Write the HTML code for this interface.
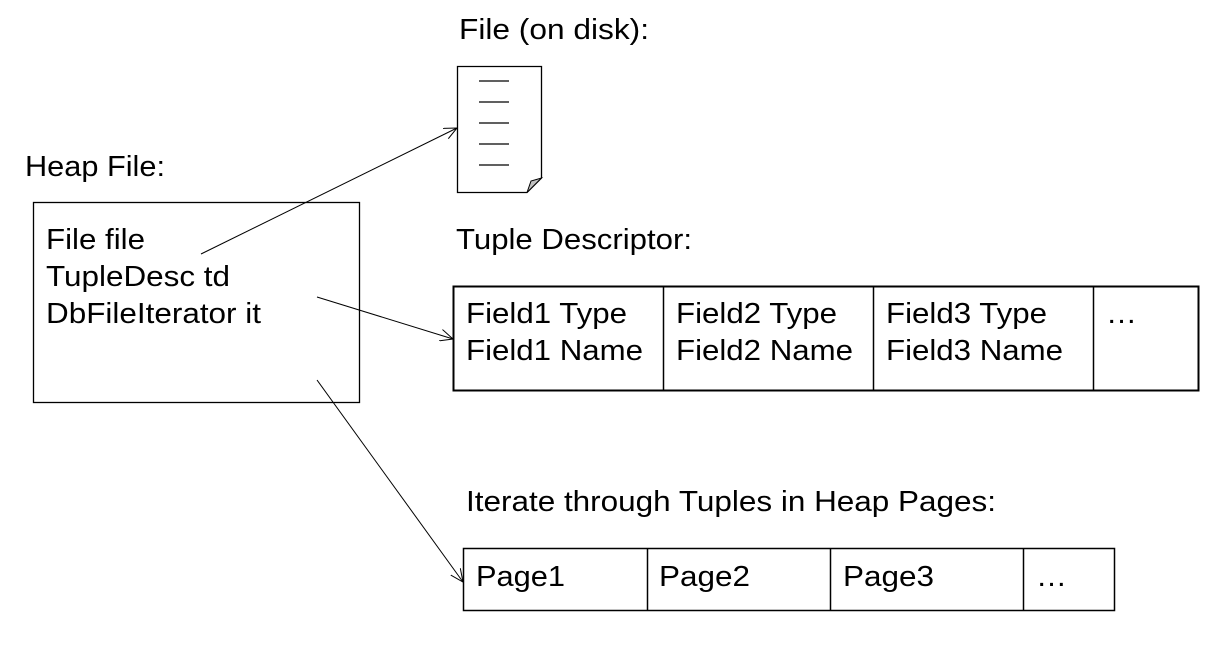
<!DOCTYPE html>
<html><head><style>html,body{margin:0;padding:0;background:#fff;}svg{display:block}</style></head>
<body>
<svg width="1210" height="655" xmlns="http://www.w3.org/2000/svg" font-family="Liberation Sans, Arial, sans-serif" font-size="29" fill="#000">
<defs><marker id="a" markerWidth="14" markerHeight="12" refX="13" refY="6" orient="auto" markerUnits="userSpaceOnUse"><path d="M0,0 L13,6 L0,12" fill="none" stroke="#000" stroke-width="1"/></marker></defs>
<g lengthAdjust="spacingAndGlyphs">
<text x="459" y="39" textLength="190" lengthAdjust="spacingAndGlyphs">File (on disk):</text>
<text x="25" y="176" textLength="140" lengthAdjust="spacingAndGlyphs">Heap File:</text>
<text x="456" y="249" textLength="236" lengthAdjust="spacingAndGlyphs">Tuple Descriptor:</text>
<text x="466" y="511" textLength="530" lengthAdjust="spacingAndGlyphs">Iterate through Tuples in Heap Pages:</text>
<text x="46" y="249" textLength="99" lengthAdjust="spacingAndGlyphs">File file</text>
<text x="46" y="286" textLength="184" lengthAdjust="spacingAndGlyphs">TupleDesc td</text>
<text x="46" y="323" textLength="215" lengthAdjust="spacingAndGlyphs">DbFileIterator it</text>
<text x="466" y="323" textLength="161" lengthAdjust="spacingAndGlyphs">Field1 Type</text><text x="466" y="360" textLength="177" lengthAdjust="spacingAndGlyphs">Field1 Name</text>
<text x="676" y="323" textLength="161" lengthAdjust="spacingAndGlyphs">Field2 Type</text><text x="676" y="360" textLength="177" lengthAdjust="spacingAndGlyphs">Field2 Name</text>
<text x="886" y="323" textLength="161" lengthAdjust="spacingAndGlyphs">Field3 Type</text><text x="886" y="360" textLength="177" lengthAdjust="spacingAndGlyphs">Field3 Name</text>
<text x="1106" y="323" textLength="31" lengthAdjust="spacingAndGlyphs">…</text>
<text x="476" y="586" textLength="89" lengthAdjust="spacingAndGlyphs">Page1</text><text x="659" y="586" textLength="91" lengthAdjust="spacingAndGlyphs">Page2</text><text x="843" y="586" textLength="91" lengthAdjust="spacingAndGlyphs">Page3</text><text x="1036" y="586" textLength="31" lengthAdjust="spacingAndGlyphs">…</text>
</g>
<path d="M457.5,66.5 H541.5 V178 L527,192.5 H457.5 Z" fill="#fff" stroke="#000" stroke-width="1.3"/>
<path d="M527,192.5 L531,181 L541.5,178 Z" fill="#c0c0c0" stroke="#000" stroke-width="1"/>
<g stroke="#000" stroke-width="1.3"><line x1="479" y1="81" x2="509" y2="81"/><line x1="479" y1="102" x2="509" y2="102"/><line x1="479" y1="123" x2="509" y2="123"/><line x1="479" y1="144" x2="509" y2="144"/><line x1="479" y1="165" x2="509" y2="165"/></g>
<rect x="33.5" y="202.5" width="326" height="200" fill="none" stroke="#000" stroke-width="1.3"/>
<rect x="453.5" y="286.5" width="745" height="104" fill="none" stroke="#000" stroke-width="2"/>
<g stroke="#000" stroke-width="1.5"><line x1="663.5" y1="286" x2="663.5" y2="391"/><line x1="873.5" y1="286" x2="873.5" y2="391"/><line x1="1093.5" y1="286" x2="1093.5" y2="391"/></g>
<rect x="463.5" y="548.5" width="651" height="62" fill="none" stroke="#000" stroke-width="1.5"/>
<g stroke="#000" stroke-width="1.5"><line x1="647.5" y1="548" x2="647.5" y2="611"/><line x1="830.5" y1="548" x2="830.5" y2="611"/><line x1="1023.5" y1="548" x2="1023.5" y2="611"/></g>
<g stroke="#000" stroke-width="1" fill="none">
<line x1="201" y1="254" x2="457" y2="128" marker-end="url(#a)"/>
<line x1="317" y1="297" x2="453" y2="339" marker-end="url(#a)"/>
<line x1="317" y1="380" x2="463" y2="582" marker-end="url(#a)"/>
</g>
</svg>
</body></html>
